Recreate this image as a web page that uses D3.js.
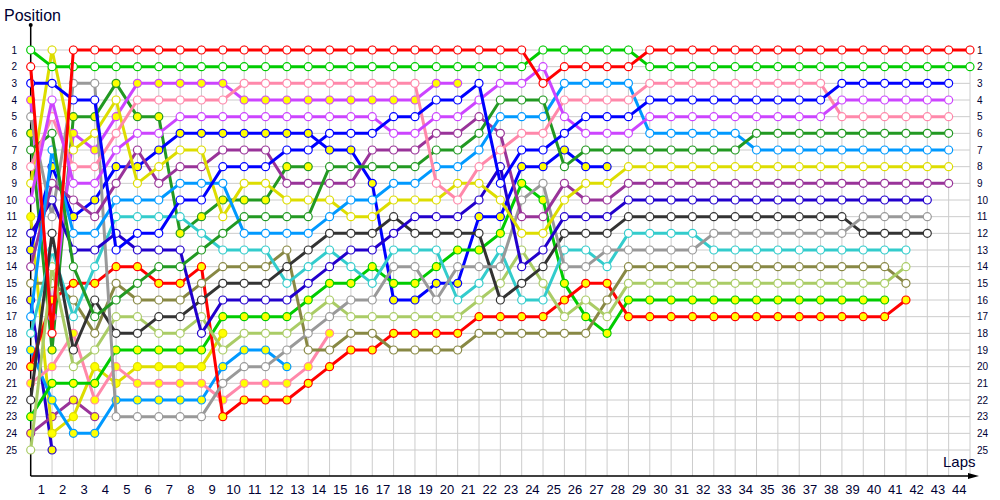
<!DOCTYPE html>
<html>
<head>
<meta charset="utf-8">
<script src="https://cdn.jsdelivr.net/npm/d3@7"></script>
<style>
  body { margin: 0; background: #fff; }
  text { font-family: "Liberation Sans", Arial, sans-serif; }
</style>
</head>
<body>
<script>
// lap labels and position labels
var laps = d3.range(1, 45);
var positions = d3.range(1, 26);

// positions of each driver, index 0 = grid
var redW = [2,18,1,1,1,1,1,1,1,1,1,1,1,1,1,1,1,1,1,1,1,1,1,1,3,2,2,2,2,1,1,1,1,1,1,1,1,1,1,1,1,1,1,1,1];
var greenW = [1,2,2,2,2,2,2,2,2,2,2,2,2,2,2,2,2,2,2,2,2,2,2,2,1,1,1,1,1,2,2,2,2,2,2,2,2,2,2,2,2,2,2,2,2];
var blueW = [3,3,4,4,13,12,12,10,10,8,8,8,7,7,6,6,6,5,5,4,4,3,9,7,7,6,5,5,5,4,4,4,4,4,4,4,4,4,3,3,3,3,3,3];
var violetW = [10,4,9,9,7,6,6,5,5,5,5,5,5,5,5,5,5,6,6,5,5,4,3,3,2,5,6,6,6,5,5,5,5,5,5,5,5,5,4,4,4,4,4,4];
var pinkW = [8,5,8,8,6,4,4,4,4,4,3,3,3,3,3,3,3,3,3,9,10,8,7,6,6,4,4,4,4,3,3,3,3,3,3,3,3,3,5,5,5,5,5,5];
var dkgreenW = [7,6,14,17,16,15,14,14,13,12,11,11,11,11,8,8,8,8,8,7,7,6,4,4,4,8,7,7,7,7,7,7,7,7,6,6,6,6,6,6,6,6,6,6];
var skyW = [17,7,12,12,10,10,10,9,9,9,12,12,12,12,11,10,10,9,9,8,8,7,5,5,5,3,3,3,3,6,6,6,6,6,7,7,7,7,7,7,7,7,7,7];
var yellowW = [9,1,7,6,4,9,8,7,7,11,9,9,10,10,10,11,11,10,10,10,9,9,10,12,12,10,9,9,8,8,8,8,8,8,8,8,8,8,8,8,8,8,8,8];
var purpleW = [14,9,10,11,9,7,9,8,8,7,7,7,9,9,9,9,7,7,7,6,6,5,6,11,11,9,10,10,9,9,9,9,9,9,9,9,9,9,9,9,9,9,9,9];
var dkblueW = [12,10,13,13,12,13,13,13,18,16,16,16,16,15,14,13,13,12,11,11,11,10,8,14,13,11,11,11,10,10,10,10,10,10,10,10,10,10,10,10,10,10,10];
var grayW = [5,11,3,3,23,23,23,23,23,21,20,20,19,18,17,16,16,14,14,16,14,14,14,10,9,14,14,13,13,13,13,13,12,12,12,12,12,12,12,11,11,11,11];
var blackW = [22,12,19,16,18,18,17,17,16,15,15,15,14,13,12,12,12,11,12,12,12,12,16,15,14,12,12,12,11,11,11,11,11,11,11,11,11,11,11,12,12,12,12];
var cyanW = [18,13,17,14,11,11,11,11,12,13,13,13,15,14,13,14,15,13,13,13,16,15,13,16,16,13,13,14,12,12,12,12,13,13,13,13,13,13,13,13,13,13];
var ltgreenW = [25,14,20,19,17,17,18,18,17,19,18,18,18,17,16,17,17,17,17,17,17,16,15,13,15,17,16,17,15,15,15,15,15,15,15,15,15,15,15,15,15,14];
var oliveW = [15,15,16,18,15,16,16,16,15,14,14,14,13,19,19,18,18,19,19,19,19,18,18,18,18,18,18,16,14,14,14,14,14,14,14,14,14,14,14,14,14,15];
var redY = [20,16,15,15,14,14,15,15,14,23,22,22,22,21,20,19,19,18,18,18,18,17,17,17,17,16,15,15,17,17,17,17,17,17,17,17,17,17,17,17,17,16];
var greenY = [23,21,21,21,19,19,19,19,19,17,17,17,17,16,15,15,14,15,15,14,13,13,12,9,10,15,17,18,16,16,16,16,16,16,16,16,16,16,16,16,16];
var blueY = [13,8,11,10,8,8,7,6,6,6,6,6,6,6,7,7,9,16,16,15,15,11,11,8,8,7,8,8];
var violetY = [4,17,6,7,5,3,3,3,3,3,4,4,4,4,4,4,4,4,4,3,3];
var pinkY = [21,20,18,22,20,21,21,21,21,22,21,21,21,20,18];
var dkgreenY = [6,19,5,5,3,5,5,12,11,10,10,10,8,8];
var skyY = [19,22,24,24,22,22,22,22,22,20,19,19,20];
var yellowY = [11,24,23,20,21,20,20,20,20,18];
var purpleY = [24,23,22,23];
var dkblueY = [16,25];

var drivers = [
  { color: "#ff0000", fill: "#fff", pos: redW },
  { color: "#00cc00", fill: "#fff", pos: greenW },
  { color: "#0000ff", fill: "#fff", pos: blueW },
  { color: "#cc44ff", fill: "#fff", pos: violetW },
  { color: "#ff88aa", fill: "#fff", pos: pinkW },
  { color: "#229922", fill: "#fff", pos: dkgreenW },
  { color: "#0099ff", fill: "#fff", pos: skyW },
  { color: "#dddd00", fill: "#fff", pos: yellowW },
  { color: "#993399", fill: "#fff", pos: purpleW },
  { color: "#2200cc", fill: "#fff", pos: dkblueW },
  { color: "#999999", fill: "#fff", pos: grayW },
  { color: "#333333", fill: "#fff", pos: blackW },
  { color: "#33cccc", fill: "#fff", pos: cyanW },
  { color: "#aacc66", fill: "#fff", pos: ltgreenW },
  { color: "#888844", fill: "#fff", pos: oliveW },
  { color: "#ff0000", fill: "#ffff00", pos: redY },
  { color: "#00cc00", fill: "#ffff00", pos: greenY },
  { color: "#0000ff", fill: "#ffff00", pos: blueY },
  { color: "#cc44ff", fill: "#ffff00", pos: violetY },
  { color: "#ff88aa", fill: "#ffff00", pos: pinkY },
  { color: "#229922", fill: "#ffff00", pos: dkgreenY },
  { color: "#0099ff", fill: "#ffff00", pos: skyY },
  { color: "#dddd00", fill: "#ffff00", pos: yellowY },
  { color: "#993399", fill: "#ffff00", pos: purpleY },
  { color: "#2200cc", fill: "#ffff00", pos: dkblueY }
];

function main() {
  var width = 1000, height = 500;

  var svg = d3.select("body").append("svg")
    .attr("width", width)
    .attr("height", height);

  var x = d3.scaleLinear().domain([0, 44]).range([30.7, 970]);
  var y = d3.scaleLinear().domain([1, 25]).range([50, 450]);
  var axisY = 476;

  // grid
  var grid = svg.append("g");
  grid.selectAll("line.v")
    .data(laps).enter().append("line")
    .attr("x1", function (d) { return x(d); })
    .attr("x2", function (d) { return x(d); })
    .attr("y1", 45).attr("y2", axisY)
    .attr("stroke", "#cccccc").attr("stroke-width", 1);
  grid.selectAll("line.h")
    .data(positions).enter().append("line")
    .attr("x1", x(0)).attr("x2", x(44))
    .attr("y1", function (d) { return y(d); })
    .attr("y2", function (d) { return y(d); })
    .attr("stroke", "#cccccc").attr("stroke-width", 1);

  // axes
  svg.append("line").attr("x1", x(0)).attr("x2", x(0))
    .attr("y1", 25).attr("y2", axisY).attr("stroke", "#000").attr("stroke-width", 1.5);
  svg.append("circle").attr("cx", x(0)).attr("cy", 25).attr("r", 2).attr("fill", "#000");
  svg.append("line").attr("x1", x(0)).attr("x2", 972)
    .attr("y1", axisY).attr("y2", axisY).attr("stroke", "#000").attr("stroke-width", 1.5);
  svg.append("path").attr("d", "M968,473 L979,476 L968,479 Z").attr("fill", "#000");

  // lap labels
  svg.selectAll("text.lap")
    .data(laps).enter().append("text")
    .attr("x", function (d) { return x(d - 0.5); })
    .attr("y", 494)
    .attr("text-anchor", "middle")
    .attr("font-size", "13px")
    .attr("fill", "#000033")
    .text(function (d) { return d; });

  // position labels, both sides
  svg.selectAll("text.pl")
    .data(positions).enter().append("text")
    .attr("x", 17)
    .attr("y", function (d) { return y(d) + 3.5; })
    .attr("text-anchor", "end")
    .attr("font-size", "10px")
    .attr("fill", "#000033")
    .text(function (d) { return d; });
  svg.selectAll("text.pr")
    .data(positions).enter().append("text")
    .attr("x", 977)
    .attr("y", function (d) { return y(d) + 3.5; })
    .attr("font-size", "10px")
    .attr("fill", "#000033")
    .text(function (d) { return d; });

  svg.append("text").attr("x", 4).attr("y", 21)
    .attr("font-size", "16px").attr("fill", "#000033").text("Position");
  svg.append("text").attr("x", 943).attr("y", 467)
    .attr("font-size", "15px").attr("fill", "#000033").text("Laps");

  var line = d3.line()
    .x(function (d, i) { return x(i); })
    .y(function (d) { return y(d); });

  // back markers first so leaders end on top
  var order = drivers.slice().reverse();
  var g = svg.selectAll("g.drv")
    .data(order).enter().append("g");

  g.append("path")
    .attr("d", function (d) { return line(d.pos); })
    .attr("fill", "none")
    .attr("stroke", function (d) { return d.color; })
    .attr("stroke-width", 3)
    .attr("stroke-linejoin", "round");

  g.selectAll("circle")
    .data(function (d) { return d.pos.map(function (p, i) { return { p: p, i: i, d: d }; }); })
    .enter().append("circle")
    .attr("cx", function (d) { return x(d.i); })
    .attr("cy", function (d) { return y(d.p); })
    .attr("r", 4)
    .attr("fill", function (d) { return d.d.fill; })
    .attr("stroke", function (d) { return d.d.color; })
    .attr("stroke-width", 1.2);
}

main();
</script>
</body>
</html>
